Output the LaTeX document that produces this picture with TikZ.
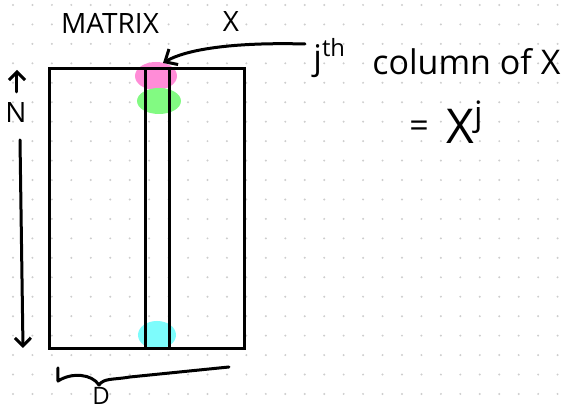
\documentclass[tikz,border=0pt]{standalone}
\usepackage{fontspec}
\setmainfont{Open Sans}
\usepackage{tikz}
\usetikzlibrary{arrows.meta,positioning}
\definecolor{inkpink}{RGB}{255,140,215}
\definecolor{inkgreen}{RGB}{130,250,130}
\definecolor{inkcyan}{RGB}{125,252,252}
\definecolor{griddot}{RGB}{205,205,205}

\begin{document}
\begin{tikzpicture}[x=0.5pt,y=-0.5pt,
  ink/.style={line width=1.5pt,line cap=round,line join=round},
  matbox/.style={draw,line width=1.5pt,inner sep=0pt,outer sep=0pt},
  hand/.style={inner sep=0pt,font=\fontsize{14}{14}\selectfont},
  handbig/.style={inner sep=0pt,font=\fontsize{17}{17}\selectfont},
]
  \useasboundingbox (0,0) rectangle (575,410);
  \fill[white] (0,0) rectangle (575,410);

  %% dotted paper
  \foreach \i in {0,...,29}{
    \foreach \j in {0,...,20}{
      \fill[griddot] (13+19.45*\i,5+19.45*\j) circle (0.55pt);
    }
  }

  %% highlighted entries
  \fill[inkpink]  (156,76)  ellipse [x radius=21, y radius=14];
  \fill[inkgreen] (159,101) ellipse [x radius=22, y radius=13];
  \fill[inkcyan]  (157,335) ellipse [x radius=19, y radius=14];

  %% matrix and its column
  \node[matbox,minimum width=97.5pt,minimum height=140pt] (mat) at (147.5,208.5) {};
  \node[matbox,minimum width=12pt,minimum height=140pt] (col) at (158,208.5) {};

  %% labels
  \node[hand] (title) at (110,23) {MATRIX};
  \node[hand] (name) at (231,22) {X};
  \node[handbig,anchor=west] (jth) at (313,58) {j\textsuperscript{th}};
  \node[handbig,anchor=west] (colof) at (372,62) {column of X};
  \node[handbig] (eq) at (419,129) {=};
  \node[inner sep=0pt,font=\fontsize{24}{24}\selectfont,anchor=west] (xj) at (446,122) {X\textsuperscript{j}};

  \coordinate (tip) at (163,63);
  \draw[ink,-{Straight Barb[length=5pt,width=9pt]}] (jth.west) ++(-8,-14)
    .. controls (230,42) and (185,50) .. (tip);

  %% dimension N
  \coordinate (ntop) at (17,92);
  \coordinate (nhead) at (17,70);
  \draw[ink,-{Straight Barb[length=4pt,width=8pt]}] (ntop) -- (nhead);
  \node[hand] (nlab) at (16,113) {N};
  \coordinate (nstart) at (20,140);
  \coordinate (nend) at (23,348);
  \draw[ink,-{Straight Barb[length=4pt,width=8pt]}] (nstart) -- (nend);

  %% dimension D
  \coordinate (bl) at (58,368);
  \coordinate (br) at (229,367);
  \draw[ink] (bl) -- (58,381) .. controls (72,372) and (92,374) .. (99,385)
    .. controls (104,378) and (112,380) .. (130,377) -- (br);
  \node[inner sep=0pt,font=\fontsize{12}{12}\selectfont] (dlab) at (101,396) {D};
\end{tikzpicture}
\end{document}
